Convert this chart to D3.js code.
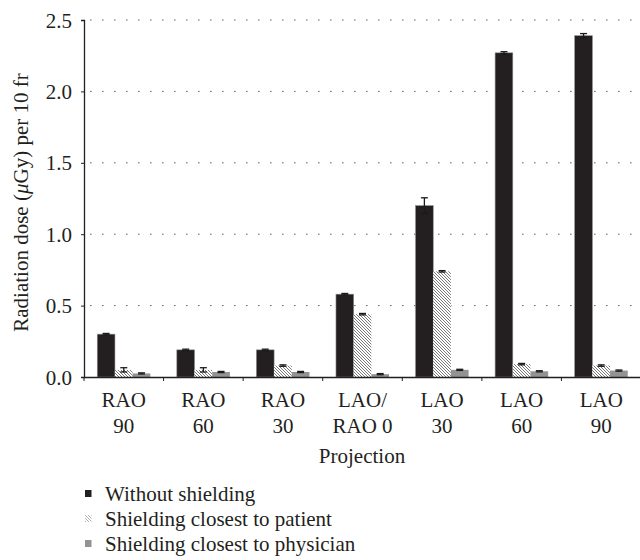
<!DOCTYPE html>
<html>
<head>
<meta charset="utf-8">
<script src="https://cdn.jsdelivr.net/npm/d3@7"></script>
<style>
    body { margin: 0; background: #fff; }
    svg { display: block; }
    .grid line { stroke: #666; stroke-dasharray: 1.6, 10.4; }
</style>
</head>
<body>
<div id="chart"></div>
<script>
// chart values
const categories = ['RAO 90', 'RAO 60', 'RAO 30', 'LAO/RAO 0', 'LAO 30', 'LAO 60', 'LAO 90'];
const tickLabels = [['RAO', '90'], ['RAO', '60'], ['RAO', '30'], ['LAO/', 'RAO 0'], ['LAO', '30'], ['LAO', '60'], ['LAO', '90']];
const seriesNames = ['Without shielding', 'Shielding closest to patient', 'Shielding closest to physician'];
const withoutShielding = [0.30, 0.19, 0.19, 0.58, 1.20, 2.27, 2.39];
const closestPatient = [0.05, 0.05, 0.08, 0.44, 0.74, 0.09, 0.08];
const closestPhysician = [0.025, 0.035, 0.035, 0.02, 0.05, 0.04, 0.045];
const errWithout = [0.005, 0.005, 0.005, 0.005, 0.055, 0.008, 0.015];
const errPatient = [0.015, 0.015, 0.005, 0.005, 0.005, 0.005, 0.005];
const errPhysician = [0.004, 0.004, 0.004, 0.004, 0.004, 0.004, 0.004];
const yTicks = [0, 0.5, 1.0, 1.5, 2.0, 2.5];

const width = 640;
const height = 560;
const margin = { top: 20, left: 84, right: 0, bottom: 183 };
const serif = '"Liberation Serif", "DejaVu Serif", serif';
const ink = '#231f20';

const svg = d3.select('#chart')
    .append('svg')
    .attr('width', width)
    .attr('height', height)
    .attr('font-family', serif);

// hatch for the middle series
const defs = svg.append('defs');
const hatch = defs.append('pattern')
    .attr('id', 'hatch')
    .attr('patternUnits', 'userSpaceOnUse')
    .attr('width', 3)
    .attr('height', 3);
hatch.append('rect').attr('width', 3).attr('height', 3).attr('fill', '#fff');
hatch.append('path')
    .attr('d', 'M-1,-1L4,4M-1,2L1,4M2,-1L4,1')
    .attr('stroke', '#6a6a6a')
    .attr('stroke-width', 0.9);

const fills = [ink, 'url(#hatch)', '#939393'];
const values = [withoutShielding, closestPatient, closestPhysician];
const errors = [errWithout, errPatient, errPhysician];

const xScale = d3.scaleBand()
    .domain(categories)
    .range([margin.left, 641]);

const xSub = d3.scaleBand()
    .domain(seriesNames)
    .range([0, xScale.bandwidth()])
    .paddingOuter(0.75);

const yScale = d3.scaleLinear()
    .domain([0, 2.5])
    .range([height - margin.bottom, margin.top]);

// dotted grid
svg.append('g')
    .attr('class', 'grid')
    .selectAll('line')
    .data(yTicks.filter(d => d > 0))
    .join('line')
    .attr('x1', margin.left + 6)
    .attr('x2', width)
    .attr('y1', d => yScale(d))
    .attr('y2', d => yScale(d));

// bars
const rows = [];
values.forEach((arr, s) => arr.forEach((v, i) => {
    rows.push({ s, cat: categories[i], v, e: errors[s][i] });
}));

svg.append('g')
    .selectAll('rect')
    .data(rows)
    .join('rect')
    .attr('x', d => xScale(d.cat) + xSub(seriesNames[d.s]))
    .attr('width', xSub.bandwidth())
    .attr('y', d => yScale(d.v))
    .attr('height', d => yScale(0) - yScale(d.v))
    .attr('fill', d => fills[d.s])
    .attr('stroke', d => d.s === 0 ? '#8a8a8a' : 'none')
    .attr('stroke-width', 0.6);

// error bars
const err = svg.append('g')
    .attr('stroke', '#1a1a1a')
    .attr('stroke-width', 1.3);
rows.forEach(d => {
    const cx = xScale(d.cat) + xSub(seriesNames[d.s]) + xSub.bandwidth() / 2;
    const y0 = yScale(d.v - d.e);
    const y1 = yScale(d.v + d.e);
    err.append('line').attr('x1', cx).attr('x2', cx).attr('y1', y0).attr('y2', y1);
    err.append('line').attr('x1', cx - 3.5).attr('x2', cx + 3.5).attr('y1', y1).attr('y2', y1);
    err.append('line').attr('x1', cx - 3.5).attr('x2', cx + 3.5).attr('y1', y0).attr('y2', y0);
});

// y axis
const yAxis = d3.axisLeft(yScale)
    .tickValues(yTicks)
    .tickFormat(d3.format('.1f'))
    .tickSize(3)
    .tickPadding(9);
const yG = svg.append('g')
    .attr('transform', `translate(${margin.left},0)`)
    .call(yAxis)
    .attr('font-family', serif)
    .attr('font-size', 21);
yG.select('.domain').attr('stroke', ink).attr('stroke-width', 1.3);
yG.selectAll('.tick line').attr('stroke', ink);
yG.selectAll('.tick text').attr('fill', ink).attr('dy', '0.34em');

// x axis
const xAxis = d3.axisBottom(xScale)
    .tickSize(0)
    .tickFormat('');
const xG = svg.append('g')
    .attr('transform', `translate(0,${yScale(0)})`)
    .call(xAxis)
    .attr('font-family', serif)
    .attr('font-size', 21);
xG.select('.domain').attr('stroke', ink).attr('stroke-width', 1.3);

// boundary ticks between categories
xG.append('g')
    .selectAll('line')
    .data(categories)
    .join('line')
    .attr('x1', d => xScale(d))
    .attr('x2', d => xScale(d))
    .attr('y1', 0)
    .attr('y2', 4)
    .attr('stroke', ink);

xG.selectAll('.tick')
    .data(categories)
    .append('text')
    .attr('fill', ink)
    .attr('text-anchor', 'middle')
    .selectAll('tspan')
    .data((d, i) => tickLabels[i])
    .join('tspan')
    .attr('x', 0)
    .attr('y', (d, i) => 30 + i * 26)
    .text(d => d);

// axis titles
svg.append('text')
    .attr('x', (margin.left + width) / 2)
    .attr('y', 463)
    .attr('text-anchor', 'middle')
    .attr('font-size', 21)
    .attr('fill', ink)
    .text('Projection');

const yTitle = svg.append('text')
    .attr('transform', `translate(28,${(yScale(0) + yScale(2.5)) / 2 + 4}) rotate(-90)`)
    .attr('text-anchor', 'middle')
    .attr('font-size', 21)
    .attr('fill', ink);
yTitle.append('tspan').text('Radiation dose (');
yTitle.append('tspan').attr('font-style', 'italic').text('μ');
yTitle.append('tspan').text('Gy) per 10 fr');

// legend
const legend = svg.append('g')
    .selectAll('g')
    .data(seriesNames)
    .join('g')
    .attr('transform', (d, i) => `translate(85,${493 + i * 25})`);
legend.append('rect')
    .attr('x', 0)
    .attr('y', -3)
    .attr('width', 6.5)
    .attr('height', 7)
    .attr('fill', (d, i) => fills[i])
    .attr('opacity', (d, i) => i === 1 ? 0.6 : 1);
legend.append('text')
    .attr('x', 20)
    .attr('y', 7.5)
    .attr('font-size', 21)
    .attr('fill', ink)
    .text(d => d);
</script>
</body>
</html>
